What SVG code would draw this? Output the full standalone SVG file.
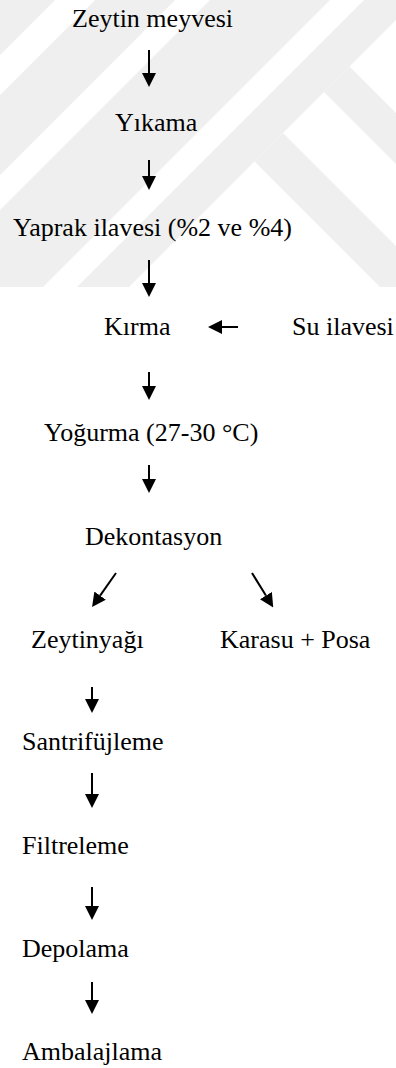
<svg xmlns="http://www.w3.org/2000/svg" width="396" height="1068" viewBox="0 0 396 1068">
  <style>
    .lbl { font-family: "Liberation Serif", "Times New Roman", Times, "DejaVu Serif", serif; font-size: 26px; fill: #000; }
    .wm { fill: #efefef; }
    .arr { stroke: #000; stroke-width: 2; fill: none; marker-end: url(#head); }
  </style>
  <defs>
    <marker id="head" viewBox="0 0 14 14" refX="0" refY="7" markerWidth="14" markerHeight="14" markerUnits="userSpaceOnUse" orient="auto">
      <path d="M0,0 L14,7 L0,14 Z" fill="#000"/>
    </marker>
    <clipPath id="wmClip">
      <rect x="0" y="0" width="396" height="287"/>
    </clipPath>
  </defs>

  <rect x="0" y="0" width="396" height="1068" fill="#ffffff"/>

  <!-- background stripes -->
  <g id="watermark" clip-path="url(#wmClip)">
    <polygon class="wm" points="0,0 55,0 0,55"/>
    <polygon class="wm" points="95,0 175,0 0,175 0,95"/>
    <polygon class="wm" points="210,0 330,0 43,287 0,287 0,210"/>
    <polygon class="wm" points="364,0 416,0 129,287 77,287"/>
    <polygon class="wm" points="254.5,161.5 283,133 500,350 471.5,378.5"/>
    <polygon class="wm" points="324,92 349.5,66.5 550,267 524.5,292.5"/>
  </g>

  <!-- connectors -->
  <g id="connectors">
    <line class="arr" x1="149" y1="50" x2="149" y2="73"/>
    <line class="arr" x1="149" y1="160" x2="149" y2="176"/>
    <line class="arr" x1="149" y1="260" x2="149" y2="283"/>
    <line class="arr" x1="238" y1="327" x2="222" y2="327"/>
    <line class="arr" x1="149" y1="372" x2="149" y2="386"/>
    <line class="arr" x1="149" y1="465" x2="149" y2="479"/>
    <line class="arr" x1="116" y1="573" x2="100.1" y2="595.6"/>
    <line class="arr" x1="252" y1="573" x2="265.9" y2="595.6"/>
    <line class="arr" x1="92" y1="687" x2="92" y2="699"/>
    <line class="arr" x1="92" y1="773" x2="92" y2="794"/>
    <line class="arr" x1="92" y1="887" x2="92" y2="906"/>
    <line class="arr" x1="92" y1="982" x2="92" y2="1000"/>
  </g>

  <!-- process steps -->
  <g id="n-zeytin-meyvesi"><text class="lbl" x="72" y="27">Zeytin meyvesi</text></g>
  <g id="n-yikama"><text class="lbl" x="115" y="131">Yıkama</text></g>
  <g id="n-yaprak"><text class="lbl" x="13" y="236">Yaprak ilavesi (%2 ve %4)</text></g>
  <g id="n-kirma"><text class="lbl" x="104" y="335">Kırma</text></g>
  <g id="n-su"><text class="lbl" x="292" y="335">Su ilavesi</text></g>
  <g id="n-yogurma"><text class="lbl" x="44" y="441">Yoğurma (27-30 °C)</text></g>
  <g id="n-dekontasyon"><text class="lbl" x="85" y="545">Dekontasyon</text></g>
  <g id="n-zeytinyagi"><text class="lbl" x="31" y="648">Zeytinyağı</text></g>
  <g id="n-karasu"><text class="lbl" x="220" y="648">Karasu + Posa</text></g>
  <g id="n-santrifujleme"><text class="lbl" x="22" y="750">Santrifüjleme</text></g>
  <g id="n-filtreleme"><text class="lbl" x="22" y="854">Filtreleme</text></g>
  <g id="n-depolama"><text class="lbl" x="22" y="957">Depolama</text></g>
  <g id="n-ambalajlama"><text class="lbl" x="22" y="1060">Ambalajlama</text></g>
</svg>
